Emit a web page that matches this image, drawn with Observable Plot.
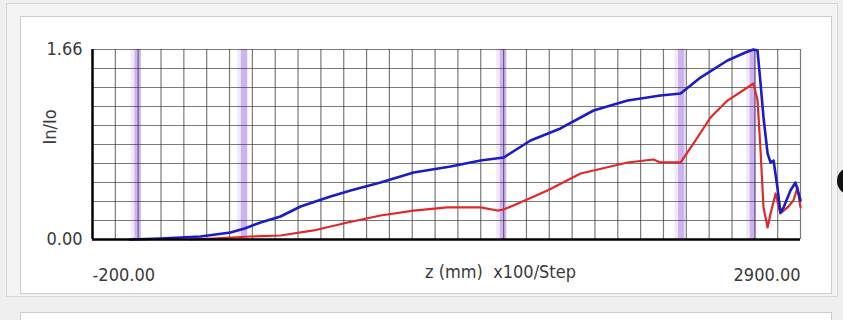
<!DOCTYPE html>
<html>
<head>
<meta charset="utf-8">
<script src="https://cdn.jsdelivr.net/npm/d3@7"></script>
<script src="https://cdn.jsdelivr.net/npm/@observablehq/plot@0.6"></script>
<style>
  html, body { margin: 0; padding: 0; }
  body { width: 843px; height: 320px; background: #efefef; position: relative; overflow: hidden; }
  .frame { position: absolute; left: 6px; top: 3px; width: 830px; height: 292px; border: 1px solid #d6d6d6; background: #f3f3f3; }
  .panel { position: absolute; left: 20px; top: 16px; width: 810px; height: 276px; border: 1px solid #cdcdcd; background: #ffffff; }
  .panel2 { position: absolute; left: 20px; top: 312px; width: 810px; height: 40px; border: 1px solid #cdcdcd; background: #ffffff; }
  .knob { position: absolute; left: 837px; top: 167px; width: 28px; height: 28px; border-radius: 50%; background: #111; }
  #chart { position: absolute; left: 0; top: 0; }
</style>
</head>
<body>
<div class="frame"></div>
<div class="panel"></div>
<div class="panel2"></div>
<div class="knob"></div>
<div id="chart"></div>
<script>
// Axial profile In/Io vs z (mm), two scans
const blueZ = [-34, 98, 273, 404, 466, 536, 623, 711, 842, 930, 1061, 1206, 1368, 1499, 1600, 1718, 1849, 1994, 2143, 2287, 2375, 2462, 2580, 2659, 2694, 2712, 2725, 2738, 2756, 2769, 2782, 2799, 2812, 2826, 2856, 2878, 2900];
const blueV = [0, 0.009, 0.026, 0.061, 0.096, 0.149, 0.201, 0.288, 0.376, 0.428, 0.498, 0.585, 0.638, 0.690, 0.716, 0.865, 0.970, 1.127, 1.214, 1.258, 1.276, 1.415, 1.564, 1.634, 1.660, 1.651, 1.363, 1.066, 0.751, 0.673, 0.690, 0.454, 0.236, 0.280, 0.428, 0.498, 0.341];

const redZ = [229, 347, 492, 623, 768, 917, 1061, 1206, 1354, 1499, 1573, 1600, 1643, 1792, 1937, 1994, 2143, 2256, 2287, 2375, 2432, 2506, 2580, 2668, 2694, 2712, 2725, 2738, 2756, 2769, 2791, 2812, 2843, 2869, 2887, 2900];
const redV = [0, 0.009, 0.026, 0.035, 0.079, 0.149, 0.210, 0.253, 0.280, 0.280, 0.253, 0.262, 0.297, 0.428, 0.577, 0.603, 0.673, 0.699, 0.673, 0.673, 0.839, 1.066, 1.214, 1.328, 1.363, 1.214, 0.778, 0.280, 0.105, 0.227, 0.402, 0.227, 0.280, 0.341, 0.454, 0.280];

// section boundaries marked along z
const bandZ = [0, 466, 1600, 2380, 2694];

const xTickLabels = [-200, 2900];
const yTickLabels = [0, 1.66];
const xGrid = d3.range(-100, 2901, 100);
const yGrid = d3.range(1, 11).map(i => +(i * 0.166).toFixed(3));

const blue = blueZ.map((z, i) => ({z, v: blueV[i]}));
const red = redZ.map((z, i) => ({z, v: redV[i]}));

const chart = Plot.plot({
  width: 843,
  height: 320,
  marginLeft: 92,
  marginRight: 43,
  marginTop: 49,
  marginBottom: 81,
  x: {domain: [-200, 2900]},
  y: {domain: [0, 1.66]},
  style: {background: "transparent", fontFamily: "'DejaVu Sans Condensed', 'DejaVu Sans', sans-serif", fontSize: "18px", color: "#3a3a3a"},
  marks: [
    Plot.rect(bandZ, {x1: d => d - 30, x2: d => d + 12, y1: 0, y2: 1.66, fill: "#eee2f9", fillOpacity: 0.8}),
    Plot.rect(bandZ, {x1: d => d - 14, x2: d => d + 14, y1: 0, y2: 1.66, fill: "#c2a0ee", fillOpacity: 0.75}),
    Plot.gridX(xGrid, {stroke: "#333", strokeOpacity: 0.65, strokeWidth: 1.2}),
    Plot.gridY(yGrid, {stroke: "#333", strokeOpacity: 0.65, strokeWidth: 1.2}),
    Plot.line(red, {x: "z", y: "v", stroke: "#e0282a", strokeWidth: 2.2}),
    Plot.line(blue, {x: "z", y: "v", stroke: "#1c1cc4", strokeWidth: 2.6}),
    Plot.ruleX([-200], {stroke: "#000", strokeWidth: 2.5}),
    Plot.ruleY([0], {stroke: "#000", strokeWidth: 2.5}),
    Plot.axisY(yTickLabels, {tickSize: 0, tickPadding: 10, tickFormat: d => d.toFixed(2), label: null}),
    Plot.axisX([xTickLabels[0]], {tickSize: 0, tickPadding: 29, textAnchor: "start", tickFormat: d => d.toFixed(2), label: null}),
    Plot.axisX([xTickLabels[1]], {tickSize: 0, tickPadding: 29, textAnchor: "end", tickFormat: d => d.toFixed(2), label: null}),
    Plot.text(["z (mm)  x100/Step"], {frameAnchor: "bottom", dx: 54, dy: 38, text: d => d}),
    Plot.text(["In/Io"], {frameAnchor: "left", dx: -42, rotate: -90, text: d => d})
  ]
});
document.getElementById("chart").appendChild(chart);
</script>
</body>
</html>
